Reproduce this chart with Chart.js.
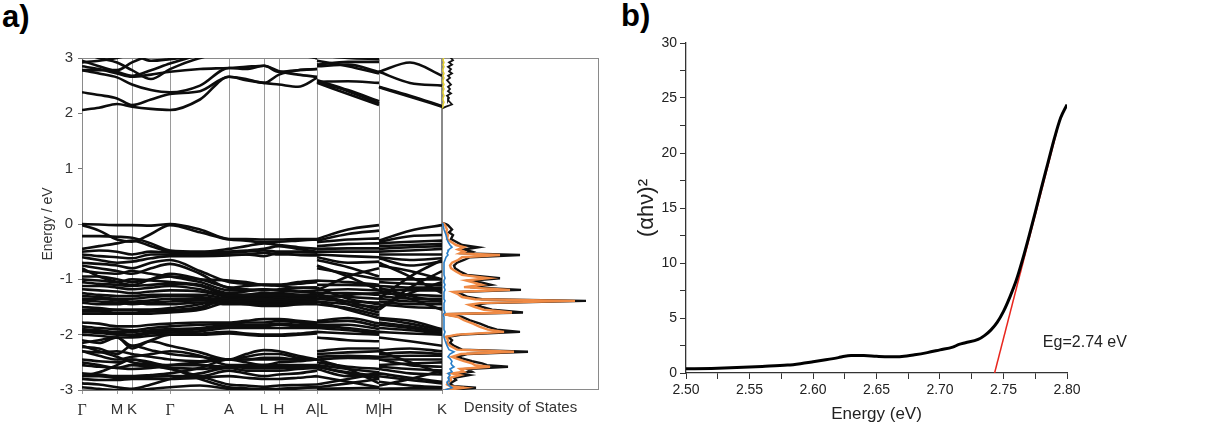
<!DOCTYPE html>
<html>
<head>
<meta charset="utf-8">
<script src="https://cdn.jsdelivr.net/npm/chart.js@4.4.1/dist/chart.umd.min.js"></script>
<style>
  body { margin: 0; background: #fff; }
  #wrap { position: relative; width: 1229px; height: 427px; overflow: hidden; background: #fff; }
  canvas { position: absolute; top: 0; }
  .tag { position: absolute; font: bold 31px "Liberation Sans", Arial, sans-serif; line-height: 31px; color: #000; }
</style>
</head>
<body>
<div id="wrap">
  <div class="tag" style="left:2px;top:1px">a)</div>
  <div class="tag" style="left:621px;top:0px">b)</div>
  <canvas id="band" width="470" height="427" style="left:0"></canvas>
  <canvas id="dos" width="170" height="427" style="left:442px"></canvas>
  <canvas id="tauc" width="617" height="427" style="left:612px"></canvas>
</div>
<script>
// ---- band structure: k-path nodes (path length), high-symmetry labels ----
const kNodes = [0, 17, 35, 50, 69, 88, 118, 147, 164, 182, 197, 216, 235, 235, 266, 297, 297, 328, 360];
const kTicks = [0, 35, 50, 88, 147, 182, 197, 235, 297, 360];
const kLabels = ["Γ", "M", "K", "Γ", "A", "L", "H", "A|L", "M|H", "K"];

// energies (eV) at each k node: Γ..A..A | L..M | H..K
const cb1 = [2.06, 2.10, 2.17, 2.12, 2.08, 2.06, 2.25, 2.66, 2.60, 2.55, 2.52, 2.48, 2.64, 2.55, 2.35, 2.15, 2.47, 2.30, 2.12];
const cb2 = [2.38, 2.33, 2.27, 2.15, 2.25, 2.35, 2.40, 2.66, 2.62, 2.55, 2.70, 2.78, 2.80, 2.57, 2.40, 2.18, 2.48, 2.32, 2.13];
const cb3 = [2.78, 2.72, 2.65, 2.52, 2.42, 2.38, 2.50, 2.82, 2.80, 2.86, 2.76, 2.70, 2.66, 2.60, 2.42, 2.22, 2.75, 2.55, 2.50];
const cb4 = [2.85, 2.80, 2.72, 2.66, 2.70, 2.75, 2.80, 2.82, 2.84, 2.86, 2.75, 2.78, 2.80, 2.57, 2.58, 2.55, 2.75, 2.92, 2.68];
const cb5 = [2.95, 2.85, 2.75, 2.68, 2.78, 2.90, 3.05, 3.10, 3.10, 3.10, 3.10, 3.05, 3.00, 2.88, 2.93, 2.93, 3.10, 3.10, 3.10];
const cb6 = [2.78, 2.78, 2.78, 2.92, 3.05, 3.10, 3.10, 3.10, 3.10, 3.10, 3.10, 3.10, 3.10, 2.85, 2.88, 2.75, 3.10, 3.10, 3.10];
const cb7 = [3.10, 3.00, 2.92, 2.78, 2.62, 2.80, 3.00, 3.10, 3.10, 3.10, 3.10, 3.10, 2.99, 3.05, 3.00, 2.98, 3.10, 3.10, 3.10];
const cb8 = [2.92, 2.95, 3.00, 3.05, 2.95, 2.98, 3.05, 3.10, 3.10, 3.10, 3.10, 3.10, 3.10, 2.95, 2.85, 2.72, 3.10, 3.10, 3.10];

const vbUpper = [
  [0.00, -0.01, -0.02, -0.02, -0.03, 0.00, -0.10, -0.27, -0.27, -0.28, -0.28, -0.27, -0.27, -0.27, -0.10, -0.02, -0.30, -0.12, -0.02],
  [-0.02, -0.12, -0.28, -0.32, -0.18, -0.02, -0.15, -0.28, -0.30, -0.33, -0.32, -0.30, -0.28, -0.30, -0.18, -0.12, -0.32, -0.22, -0.20],
  [-0.22, -0.22, -0.23, -0.25, -0.35, -0.48, -0.50, -0.45, -0.40, -0.35, -0.38, -0.42, -0.45, -0.33, -0.28, -0.26, -0.35, -0.32, -0.30],
  [-0.45, -0.40, -0.35, -0.30, -0.40, -0.50, -0.52, -0.50, -0.48, -0.45, -0.40, -0.45, -0.50, -0.40, -0.36, -0.35, -0.40, -0.38, -0.36],
  [-0.50, -0.48, -0.50, -0.55, -0.50, -0.52, -0.55, -0.52, -0.50, -0.48, -0.50, -0.50, -0.52, -0.45, -0.44, -0.44, -0.45, -0.42, -0.40],
  [-0.55, -0.58, -0.60, -0.62, -0.55, -0.55, -0.55, -0.55, -0.55, -0.52, -0.55, -0.55, -0.55, -0.50, -0.50, -0.50, -0.50, -0.48, -0.45],
  [-0.60, -0.65, -0.70, -0.68, -0.62, -0.58, -0.58, -0.57, -0.55, -0.58, -0.52, -0.56, -0.57, -0.55, -0.58, -0.60, -0.55, -0.55, -0.55],
  [-0.70, -0.72, -0.75, -0.80, -0.70, -0.65, -0.85, -1.05, -1.08, -1.10, -1.10, -1.08, -1.05, -0.60, -0.70, -0.68, -0.60, -0.65, -0.62],
  [-0.75, -0.80, -0.85, -0.90, -0.80, -0.72, -0.90, -1.15, -1.12, -1.10, -1.12, -1.15, -1.15, -0.65, -0.78, -0.95, -0.62, -0.75, -0.68],
  [-0.85, -0.88, -0.90, -0.85, -0.90, -0.95, -1.05, -1.20, -1.20, -1.18, -1.20, -1.22, -1.20, -0.80, -0.90, -1.00, -0.75, -0.85, -1.00]
];
const vbMiddle = [
  [-0.95, -0.95, -1.00, -1.05, -1.00, -0.95, -1.00, -1.02, -1.05, -1.10, -1.10, -1.05, -1.02, -1.02, -1.05, -1.10, -1.00, -1.00, -1.00],
  [-1.00, -1.02, -1.05, -1.00, -1.02, -1.05, -1.10, -1.25, -1.22, -1.18, -1.20, -1.22, -1.25, -1.10, -1.10, -1.12, -1.05, -1.08, -1.10],
  [-1.05, -1.08, -1.10, -1.12, -1.10, -1.08, -1.12, -1.28, -1.28, -1.28, -1.28, -1.28, -1.28, -1.20, -1.18, -1.20, -1.12, -1.15, -1.15],
  [-1.12, -1.12, -1.15, -1.18, -1.15, -1.12, -1.18, -1.30, -1.30, -1.30, -1.32, -1.30, -1.30, -1.25, -1.25, -1.28, -1.18, -1.20, -1.20],
  [-1.18, -1.20, -1.22, -1.25, -1.22, -1.20, -1.22, -1.32, -1.34, -1.35, -1.35, -1.34, -1.32, -1.30, -1.32, -1.35, -1.25, -1.28, -1.30],
  [-1.25, -1.28, -1.30, -1.30, -1.28, -1.28, -1.28, -1.35, -1.37, -1.38, -1.40, -1.37, -1.35, -1.35, -1.40, -1.42, -1.30, -1.35, -1.35],
  [-1.30, -1.32, -1.35, -1.35, -1.32, -1.30, -1.32, -1.38, -1.40, -1.42, -1.42, -1.40, -1.38, -1.40, -1.45, -1.50, -1.35, -1.40, -1.40],
  [-1.35, -1.35, -1.38, -1.40, -1.38, -1.35, -1.35, -1.40, -1.42, -1.45, -1.45, -1.42, -1.40, -1.30, -1.40, -1.55, -1.40, -1.45, -1.45],
  [-1.38, -1.40, -1.42, -1.45, -1.42, -1.40, -1.38, -1.42, -1.45, -1.48, -1.48, -1.45, -1.42, -1.25, -1.45, -1.60, -1.45, -1.50, -1.52],
  [-1.42, -1.45, -1.45, -1.42, -1.45, -1.45, -1.42, -1.45, -1.45, -1.45, -1.45, -1.45, -1.45, -1.45, -1.52, -1.65, -1.20, -1.35, -1.55],
  [-1.50, -1.52, -1.55, -1.55, -1.55, -1.52, -1.45, -1.30, -1.28, -1.25, -1.25, -1.28, -1.30, -1.15, -1.35, -1.45, -1.15, -1.30, -1.40],
  [-1.55, -1.55, -1.55, -1.55, -1.55, -1.55, -1.50, -1.32, -1.30, -1.28, -1.30, -1.32, -1.32, -1.35, -1.28, -1.25, -1.50, -1.25, -1.05],
  [-1.58, -1.58, -1.60, -1.60, -1.58, -1.58, -1.52, -1.35, -1.35, -1.32, -1.35, -1.36, -1.35, -1.40, -1.55, -1.70, -1.55, -1.15, -0.85],
  [-1.62, -1.62, -1.62, -1.62, -1.62, -1.60, -1.55, -1.40, -1.38, -1.40, -1.38, -1.40, -1.40, -1.20, -0.95, -0.80, -1.35, -0.95, -0.65],
  [-0.80, -0.95, -1.05, -1.10, -1.00, -0.90, -1.00, -1.15, -1.18, -1.20, -1.18, -1.16, -1.15, -0.75, -0.95, -1.20, -0.70, -0.95, -1.25]
];
const vbLower = [
  [-1.78, -1.80, -1.85, -1.85, -1.82, -1.80, -1.78, -1.78, -1.75, -1.72, -1.72, -1.75, -1.78, -1.75, -1.70, -1.80, -1.70, -1.75, -1.90],
  [-1.85, -1.88, -1.90, -1.92, -1.88, -1.85, -1.82, -1.80, -1.78, -1.78, -1.75, -1.78, -1.80, -1.78, -1.75, -1.85, -1.72, -1.80, -1.92],
  [-1.90, -1.92, -1.95, -1.95, -1.92, -1.90, -1.88, -1.82, -1.82, -1.82, -1.80, -1.82, -1.82, -1.82, -1.82, -1.90, -1.78, -1.85, -1.95],
  [-1.92, -1.95, -1.98, -2.00, -1.95, -1.93, -1.90, -1.85, -1.85, -1.85, -1.82, -1.85, -1.85, -1.85, -1.88, -1.95, -1.82, -1.88, -1.95],
  [-1.95, -1.97, -2.00, -2.02, -1.98, -1.96, -1.94, -1.88, -1.88, -1.88, -1.88, -1.88, -1.88, -1.88, -1.92, -1.98, -1.88, -1.92, -1.98],
  [-2.00, -2.02, -2.05, -2.05, -2.02, -2.00, -1.98, -1.95, -1.98, -2.00, -2.00, -1.98, -1.95, -1.95, -1.98, -2.00, -1.95, -1.98, -2.00],
  [-2.10, -2.15, -2.05, -2.20, -2.10, -2.00, -2.00, -1.98, -2.00, -2.02, -2.02, -2.00, -1.98, -2.05, -2.10, -2.12, -2.05, -2.12, -2.20]
];
const vbBottom = [
  [-2.15, -2.10, -2.05, -2.25, -2.12, -2.20, -2.32, -2.45, -2.35, -2.28, -2.30, -2.38, -2.45, -2.30, -2.25, -2.25, -2.28, -2.25, -2.30],
  [-2.22, -2.25, -2.35, -2.20, -2.28, -2.35, -2.40, -2.45, -2.40, -2.35, -2.35, -2.42, -2.45, -2.35, -2.32, -2.30, -2.35, -2.32, -2.35],
  [-2.30, -2.32, -2.30, -2.35, -2.40, -2.45, -2.48, -2.45, -2.45, -2.42, -2.42, -2.45, -2.45, -2.40, -2.38, -2.40, -2.40, -2.38, -2.38],
  [-2.30, -2.38, -2.45, -2.40, -2.35, -2.30, -2.38, -2.55, -2.55, -2.55, -2.55, -2.55, -2.55, -2.45, -2.42, -2.43, -2.45, -2.45, -2.45],
  [-2.45, -2.48, -2.50, -2.45, -2.52, -2.55, -2.55, -2.58, -2.58, -2.58, -2.58, -2.58, -2.58, -2.55, -2.62, -2.68, -2.55, -2.52, -2.50],
  [-2.50, -2.55, -2.60, -2.55, -2.58, -2.60, -2.62, -2.58, -2.60, -2.60, -2.60, -2.60, -2.58, -2.58, -2.68, -2.75, -2.58, -2.62, -2.65],
  [-2.55, -2.58, -2.60, -2.62, -2.60, -2.55, -2.50, -2.45, -2.45, -2.45, -2.45, -2.45, -2.45, -2.58, -2.70, -2.79, -2.45, -2.55, -2.58],
  [-2.70, -2.72, -2.75, -2.75, -2.73, -2.70, -2.60, -2.45, -2.50, -2.55, -2.50, -2.48, -2.45, -2.45, -2.62, -2.88, -2.62, -2.70, -2.72],
  [-2.75, -2.75, -2.78, -2.78, -2.76, -2.75, -2.75, -2.65, -2.70, -2.75, -2.72, -2.70, -2.65, -2.62, -2.75, -2.70, -2.70, -2.78, -2.85],
  [-2.80, -2.82, -2.82, -2.80, -2.80, -2.80, -2.78, -2.75, -2.78, -2.80, -2.80, -2.78, -2.75, -2.75, -2.85, -2.95, -2.75, -2.82, -2.88],
  [-2.88, -2.90, -2.95, -2.98, -2.90, -2.80, -2.70, -2.60, -2.65, -2.65, -2.65, -2.62, -2.60, -2.95, -2.88, -2.80, -2.85, -2.92, -2.95],
  [-2.95, -2.98, -3.00, -3.00, -2.98, -2.95, -2.92, -2.98, -2.99, -2.98, -2.99, -2.97, -2.95, -2.98, -2.97, -2.96, -2.98, -2.97, -2.97],
  [-2.75, -2.68, -2.55, -2.45, -2.50, -2.60, -2.80, -2.95, -2.97, -2.99, -2.98, -2.96, -2.95, -2.90, -2.80, -2.70, -2.92, -2.80, -2.65],
  [-2.20, -2.30, -2.40, -2.50, -2.55, -2.62, -2.75, -2.90, -2.92, -2.94, -2.92, -2.91, -2.90, -2.50, -2.58, -2.62, -2.30, -2.50, -2.70]
];

// ---- density of states (energy in eV, DOS in arbitrary units) ----
const vbEnergy = [0.02, 0, -0.02, -0.1, -0.15, -0.2, -0.27, -0.32, -0.38, -0.42, -0.46, -0.5, -0.53, -0.56, -0.6, -0.65,
  -0.7, -0.75, -0.8, -0.86, -0.92, -0.98, -1.02, -1.06, -1.1, -1.14, -1.19, -1.23, -1.27, -1.32, -1.36, -1.39, -1.43, -1.46,
  -1.5, -1.55, -1.6, -1.63, -1.68, -1.74, -1.8, -1.86, -1.91, -1.95, -2.0, -2.04, -2.1, -2.15, -2.2, -2.27, -2.31, -2.35,
  -2.4, -2.43, -2.48, -2.52, -2.55, -2.58, -2.62, -2.67, -2.7, -2.73, -2.78, -2.82, -2.86, -2.9, -2.93, -2.96, -3.0];
const vbTotal = [0, 4, 6, 10, 7, 11, 9, 14, 20, 36, 22, 30, 24, 78, 28, 22, 15, 12, 13, 18, 25, 58, 30, 40, 49, 28, 79, 15,
  20, 26, 40, 144, 45, 33, 40, 50, 81, 3, 20, 28, 38, 46, 55, 78, 20, 6, 10, 8, 12, 20, 86, 25, 15, 20, 30, 40, 45, 66, 25,
  30, 15, 27, 12, 14, 10, 8, 12, 34, 5];
const vbOrange = [0, 2, 3, 5, 4, 6, 5, 9, 14, 22, 16, 22, 18, 58, 20, 16, 10, 8, 9, 14, 20, 46, 24, 32, 40, 22, 68, 11, 16,
  20, 33, 133, 38, 27, 33, 42, 70, 2, 16, 22, 31, 38, 46, 62, 15, 4, 6, 5, 8, 15, 72, 19, 10, 14, 22, 30, 33, 48, 18, 22,
  10, 18, 8, 9, 6, 5, 8, 22, 3];
const vbBlue = [0, 1, 1, 2, 3, 4, 5, 6, 8, 10, 7, 6, 5, 6, 4, 3, 2, 2, 2, 2, 2, 3, 2, 2, 3, 2, 3, 2, 2, 2, 2, 3, 2, 2, 2, 2,
  3, 1, 2, 2, 2, 2, 2, 3, 2, 2, 3, 4, 5, 7, 12, 8, 6, 8, 10, 9, 10, 12, 8, 10, 6, 8, 6, 7, 5, 6, 8, 10, 3];
const cbEnergy = [3.02, 2.96, 2.92, 2.88, 2.84, 2.8, 2.76, 2.72, 2.68, 2.64, 2.6, 2.56, 2.52, 2.48, 2.44, 2.4, 2.36, 2.32,
  2.28, 2.24, 2.2, 2.16, 2.12, 2.09];
const cbTotal = [8, 11, 7, 10, 6, 9, 7, 10, 6, 8, 5, 7, 9, 6, 8, 6, 9, 5, 7, 6, 8, 10, 4, 0];
const cbYellow = [2, 1, 2, 1, 2, 1, 1, 2, 1, 2, 1, 1, 2, 1, 2, 1, 1, 2, 1, 1, 2, 1, 1, 0];

// ---- Tauc plot ----
const taucEnergy = [2.50, 2.52, 2.54, 2.56, 2.58, 2.59, 2.60, 2.61, 2.62, 2.625, 2.63, 2.64, 2.65, 2.66, 2.67, 2.68, 2.69,
  2.70, 2.71, 2.715, 2.72, 2.73, 2.735, 2.74, 2.745, 2.75, 2.755, 2.76, 2.765, 2.77, 2.775, 2.78, 2.785, 2.79, 2.795, 2.80];
const taucValue = [0.38, 0.42, 0.50, 0.60, 0.72, 0.85, 1.02, 1.20, 1.40, 1.52, 1.58, 1.60, 1.52, 1.47, 1.50, 1.65, 1.85,
  2.10, 2.35, 2.60, 2.75, 3.05, 3.40, 3.90, 4.60, 5.60, 6.90, 8.40, 10.3, 12.4, 14.6, 16.9, 19.1, 21.3, 23.2, 24.4];
const fitEnergy = [2.743, 2.792];
const fitValue = [0, 22];

const FONT = '"Liberation Sans", Arial, sans-serif';

// segments of the k-path are split at A|L and M|H
function bandPoints(vals) {
  const pts = [];
  vals.forEach((e, i) => {
    if (i === 13 || i === 16) pts.push({ x: kNodes[i], y: null });
    pts.push({ x: kNodes[i], y: e });
  });
  return pts;
}

function xy(xs, ys) {
  return xs.map((v, i) => ({ x: v, y: ys[i] }));
}

const framePlugin = {
  id: "frame",
  beforeDatasetsDraw(chart, args, opts) {
    const { ctx, chartArea: a } = chart;
    ctx.save();
    ctx.strokeStyle = opts.color || "#888";
    ctx.lineWidth = 1;
    ctx.strokeRect(a.left + 0.5, a.top + 0.5, a.right - a.left - 1, a.bottom - a.top - 1);
    ctx.restore();
  },
};

// ---------- panel a: band structure ----------
const allBands = [cb1, cb2, cb3, cb4, cb5, cb6, cb7, cb8].concat(vbUpper, vbMiddle, vbLower, vbBottom);

new Chart(document.getElementById("band"), {
  type: "scatter",
  data: {
    datasets: allBands.map((b) => ({
      data: bandPoints(b),
      showLine: true,
      borderColor: "#0d0d0d",
      borderWidth: 2.6,
      pointRadius: 0,
      cubicInterpolationMode: "monotone",
    })),
  },
  options: {
    responsive: false,
    animation: false,
    events: [],
    layout: { padding: { top: 58, right: 28, left: 0, bottom: 0 } },
    plugins: { legend: { display: false }, tooltip: { enabled: false }, frame: { color: "#8a8a8a" } },
    scales: {
      x: {
        type: "linear",
        min: 0,
        max: 360,
        afterBuildTicks: (scale) => {
          scale.ticks = kTicks.map((v) => ({ value: v }));
        },
        afterFit: (scale) => {
          scale.height = 37;
        },
        ticks: {
          autoSkip: false,
          maxRotation: 0,
          padding: 7,
          color: "#333",
          font: (c) =>
            c.tick && kLabels[c.index] === "Γ"
              ? { family: '"Liberation Serif", "Times New Roman", serif', size: 16 }
              : { family: FONT, size: 15 },
          callback: (v, i) => kLabels[i],
        },
        grid: { color: "#9a9a9a", lineWidth: 1, tickLength: 4 },
        border: { color: "#777" },
      },
      y: {
        min: -3,
        max: 3,
        afterFit: (scale) => {
          scale.width = 82;
        },
        ticks: { stepSize: 1, padding: 5, color: "#333", font: { family: FONT, size: 15 } },
        grid: { drawOnChartArea: false, tickLength: 4, color: "#777" },
        border: { color: "#777" },
        title: {
          display: true,
          text: "Energy / eV",
          color: "#333",
          font: { family: FONT, size: 14 },
          padding: { top: 40, bottom: 0 },
        },
      },
    },
  },
  plugins: [framePlugin],
});

// ---------- panel a: density of states ----------
new Chart(document.getElementById("dos"), {
  type: "scatter",
  data: {
    datasets: [
      { data: xy(cbYellow, cbEnergy), borderColor: "#e2cf2e", borderWidth: 1.5, order: 0 },
      { data: xy(vbBlue, vbEnergy), borderColor: "#2a7fc9", borderWidth: 1.6, order: 1 },
      { data: xy(vbOrange, vbEnergy), borderColor: "#ef8a45", borderWidth: 2.4, order: 2 },
      { data: xy(vbTotal, vbEnergy), borderColor: "#111", borderWidth: 2.4, order: 3 },
      { data: xy(cbTotal, cbEnergy), borderColor: "#111", borderWidth: 1.8, order: 3 },
    ].map((d) => Object.assign(d, { showLine: true, pointRadius: 0, tension: 0 })),
  },
  options: {
    responsive: false,
    animation: false,
    events: [],
    layout: { padding: { top: 58, right: 13, left: 0, bottom: 0 } },
    plugins: { legend: { display: false }, tooltip: { enabled: false }, frame: { color: "#8a8a8a" } },
    scales: {
      x: {
        min: 0,
        max: 157,
        afterFit: (scale) => {
          scale.height = 37;
        },
        ticks: { display: false },
        grid: { display: false },
        border: { display: false },
        title: {
          display: true,
          text: "Density of States",
          color: "#333",
          font: { family: FONT, size: 15 },
          padding: { top: 0, bottom: 10 },
        },
      },
      y: { min: -3, max: 3, display: false },
    },
  },
  plugins: [framePlugin],
});

// ---------- panel b: Tauc plot ----------
const egLabel = {
  id: "egLabel",
  afterDraw(chart) {
    const { ctx, scales } = chart;
    ctx.save();
    ctx.font = "16px " + FONT;
    ctx.fillStyle = "#222";
    ctx.textBaseline = "middle";
    ctx.fillText("Eg=2.74 eV", scales.x.getPixelForValue(2.781), scales.y.getPixelForValue(2.8));
    ctx.restore();
  },
};

new Chart(document.getElementById("tauc"), {
  type: "scatter",
  data: {
    datasets: [
      {
        data: xy(fitEnergy, fitValue),
        showLine: true,
        borderColor: "#e8261e",
        borderWidth: 1.5,
        pointRadius: 0,
        order: 1,
      },
      {
        data: xy(taucEnergy, taucValue),
        showLine: true,
        borderColor: "#000",
        borderWidth: 3,
        pointRadius: 0,
        cubicInterpolationMode: "monotone",
        order: 0,
      },
    ],
  },
  options: {
    responsive: false,
    animation: false,
    events: [],
    layout: { padding: { top: 43, right: 162, left: 0, bottom: 0 } },
    plugins: { legend: { display: false }, tooltip: { enabled: false } },
    scales: {
      x: {
        min: 2.5,
        max: 2.8,
        afterFit: (scale) => {
          scale.height = 54;
        },
        ticks: {
          stepSize: 0.025,
          autoSkip: false,
          maxRotation: 0,
          padding: 3,
          color: "#222",
          font: { family: FONT, size: 14 },
          callback: (v) => (Math.round(v * 1000) % 50 === 0 ? v.toFixed(2) : ""),
        },
        grid: { drawOnChartArea: false, tickLength: 6, color: "#333" },
        border: { color: "#333", width: 1.3 },
        title: {
          display: true,
          text: "Energy (eV)",
          color: "#222",
          font: { family: FONT, size: 17 },
          padding: { top: 0, bottom: 2 },
        },
      },
      y: {
        min: 0,
        max: 30,
        afterFit: (scale) => {
          scale.width = 74;
        },
        ticks: {
          stepSize: 2.5,
          autoSkip: false,
          padding: 3,
          color: "#222",
          font: { family: FONT, size: 14 },
          callback: (v) => (v % 5 === 0 ? v : ""),
        },
        grid: { drawOnChartArea: false, tickLength: 6, color: "#333" },
        border: { color: "#333", width: 1.3 },
        title: {
          display: true,
          text: "(αhν)²",
          color: "#222",
          font: { family: FONT, size: 22 },
          padding: { top: 22, bottom: 0 },
        },
      },
    },
  },
  plugins: [egLabel],
});
</script>
</body>
</html>
